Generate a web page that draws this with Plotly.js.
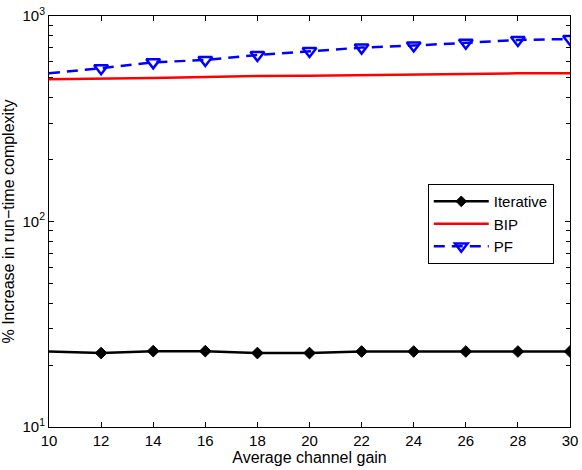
<!DOCTYPE html>
<html>
<head>
<meta charset="utf-8">
<script src="https://cdn.plot.ly/plotly-3.0.1.min.js"></script>
<style>
  html, body { margin: 0; padding: 0; background: #fff; }
  #chart { width: 582px; height: 470px; }
</style>
</head>
<body>
<div id="chart"></div>
<script>
// Average channel gain on the x axis
const gain = [10, 12, 14, 16, 18, 20, 22, 24, 26, 28, 30];

// % increase in run-time complexity per method
const iterative = [23.3, 22.9, 23.4, 23.4, 22.9, 22.9, 23.3, 23.3, 23.3, 23.3, 23.3];
const bip       = [492, 494, 499, 505, 511, 512, 516, 522, 526, 526, 526];
const pf        = [526, 557, 595, 611, 646, 676, 702, 718, 741, 764, 773];

const yTickVals = [10, 100, 1000];
const yTickText = ['10<sup>1</sup>', '10<sup>2</sup>', '10<sup>3</sup>'];
const xTickVals = [10, 12, 14, 16, 18, 20, 22, 24, 26, 28, 30];

// minor log ticks: 2..9 within each decade
const yMinorVals = [];
[10, 100].forEach(d => { for (let k = 2; k <= 9; k++) yMinorVals.push(k * d); });

// markers start from the second sample; the first point is line only
const markerSizes = s => gain.map((_, i) => (i === 0 ? 0 : s));

const FONT = 'Liberation Sans, Arial, Helvetica, sans-serif';

const traces = [
  {
    x: gain, y: iterative, name: 'Iterative', legendgroup: 'a', type: 'scatter', mode: 'lines+markers',
    line: { color: '#000000', width: 2.5 },
    marker: { symbol: 'diamond', size: markerSizes(9), color: '#000000', opacity: 1,
              line: { color: '#000000', width: 1 } }
  },
  {
    x: gain, y: bip, name: 'BIP', legendgroup: 'b', type: 'scatter', mode: 'lines',
    line: { color: '#ff0000', width: 2.5 }
  },
  {
    x: gain, y: pf, name: 'PF', legendgroup: 'c', type: 'scatter', mode: 'lines+markers',
    line: { color: '#0000ff', width: 2.5, dash: '11px,7px' },
    marker: { symbol: 'triangle-down-open', size: markerSizes(12), color: '#0000ff', opacity: 1,
              line: { color: '#0000ff', width: 2.5 } }
  }
];

const tickFont = { family: FONT, size: 15, color: '#000' };
const titleFont = { family: FONT, size: 16, color: '#000' };

const layout = {
  width: 582, height: 470,
  margin: { l: 49, r: 12, t: 16, b: 43 },
  paper_bgcolor: '#ffffff', plot_bgcolor: '#ffffff',
  font: tickFont,
  showlegend: true,
  legend: {
    x: 0.727, y: 0.591, xanchor: 'left', yanchor: 'top',
    bgcolor: '#ffffff', bordercolor: '#000000', borderwidth: 1,
    tracegroupgap: 0, itemwidth: 55,
    font: { family: FONT, size: 15, color: '#000' }
  },
  xaxis: {
    range: [10, 30], tickvals: xTickVals, ticks: 'inside', ticklen: 5,
    tickcolor: '#000', showline: true, linecolor: '#000', linewidth: 1, mirror: 'ticks',
    showgrid: false, zeroline: false, tickfont: tickFont,
    title: { text: 'Average channel gain', font: titleFont, standoff: 0 }
  },
  yaxis: {
    type: 'log', range: [1, 3], tickvals: yTickVals, ticktext: yTickText,
    ticks: 'inside', ticklen: 5, tickcolor: '#000',
    showline: true, linecolor: '#000', linewidth: 1, mirror: 'ticks',
    showgrid: false, zeroline: false, tickfont: tickFont,
    minor: { tickmode: 'array', tickvals: yMinorVals, ticks: 'inside', ticklen: 4, tickcolor: '#000', showgrid: false },
    title: { text: '% Increase in run\u2212time complexity', font: titleFont, standoff: 6 }
  }
};

Plotly.newPlot('chart', traces, layout, { staticPlot: true, displayModeBar: false });
</script>
</body>
</html>
